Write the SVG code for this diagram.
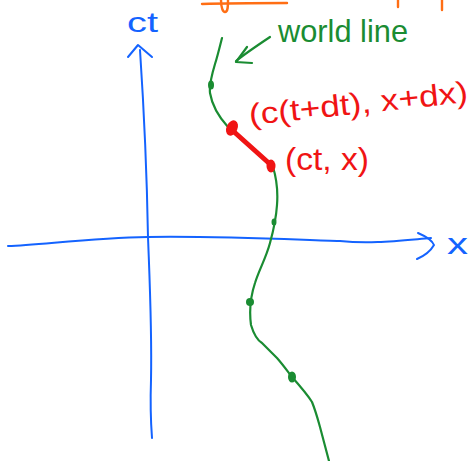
<svg xmlns="http://www.w3.org/2000/svg" width="472" height="461" viewBox="0 0 472 461">
<style>
.s{fill:none;stroke-linecap:round;stroke-linejoin:round}
.b{stroke:#1463ff;stroke-width:2}
.g{stroke:#1a8c32;stroke-width:2.2}
.r{stroke:#f01414}
.o{stroke:#ff6e14;stroke-width:2.4}
.t{font-family:"Liberation Sans",Arial,sans-serif}
</style>
<rect width="472" height="461" fill="#fff"/>
<g id="orange-marks">
<path class="s o" d="M202,4 C230,3 260,3 287,3"/>
<path class="s o" d="M221,0 C221,8 223,12 225,12 C228,12 228,6 228,0"/>
<path class="s o" d="M398,0 L398,7"/>
<path class="s o" d="M442,0 L442,10"/>
</g>
<g id="axes">
<g id="ct-axis">
<path class="s b" d="M140,50 C144,110 147,180 148,237 C150,290 152,330 151,380 C150,410 151,425 152,438"/>
<path class="s b" d="M128,57 L138,45 L152,57"/>
<text class="t" x="127" y="32" font-size="28" fill="#1463ff" textLength="31" lengthAdjust="spacingAndGlyphs">ct</text>
</g>
<g id="x-axis">
<path class="s b" d="M8,246 C40,245 90,238 148,237 C230,236 300,240 340,241 C370,244 395,241 431,238"/>
<path class="s b" d="M418,233 C425,236 432,240 434,245 C430,252 424,256 417,259"/>
<text class="t" x="447" y="254" font-size="30" fill="#1463ff" textLength="21" lengthAdjust="spacingAndGlyphs">x</text>
</g>
</g>
<g id="world-line">
<path class="s g" d="M222,38 C219,50 217,58 215,64 C212,74 209,84 210,93 C212,105 218,116 228,127 C240,140 262,155 273,167 C277,180 278,192 277,205 C276,220 273,232 270,243 C266,258 259,270 255,283 C251,295 249,310 251,325 C254,335 257,340 262,343 C268,349 272,353 277,358 C284,366 288,372 292,377 C300,386 307,394 312,402 C316,412 318,420 320,427 C323,438 326,450 329,461"/>
<ellipse cx="211" cy="85" rx="3" ry="4.5" fill="#1a8c32"/>
<ellipse cx="274" cy="222" rx="2.5" ry="3.5" fill="#1a8c32"/>
<ellipse cx="250" cy="302" rx="4" ry="4" fill="#1a8c32"/>
<ellipse cx="292" cy="377" rx="4" ry="5.5" fill="#1a8c32"/>
</g>
<g id="world-line-label">
<path class="s g" d="M270,37 C258,45 246,53 236,61"/>
<path class="s g" d="M247,47 L236,62 L252,63"/>
<text class="t" x="278" y="42" font-size="32" fill="#1a8c32" textLength="130" lengthAdjust="spacingAndGlyphs">world line</text>
</g>
<g id="interval">
<path class="s r" stroke-width="5" d="M232,130 L271,165"/>
<ellipse cx="232" cy="128" rx="5.5" ry="8" transform="rotate(25 232 128)" fill="#f01414"/>
<ellipse cx="271" cy="166" rx="4.5" ry="6.5" fill="#f01414"/>
<text class="t" x="250" y="125" font-size="30" fill="#f01414" transform="rotate(-6 250 125)" textLength="220" lengthAdjust="spacingAndGlyphs">(c(t+dt), x+dx)</text>
<text class="t" x="285" y="170" font-size="31" fill="#f01414" textLength="84" lengthAdjust="spacingAndGlyphs">(ct, x)</text>
</g>
</svg>
